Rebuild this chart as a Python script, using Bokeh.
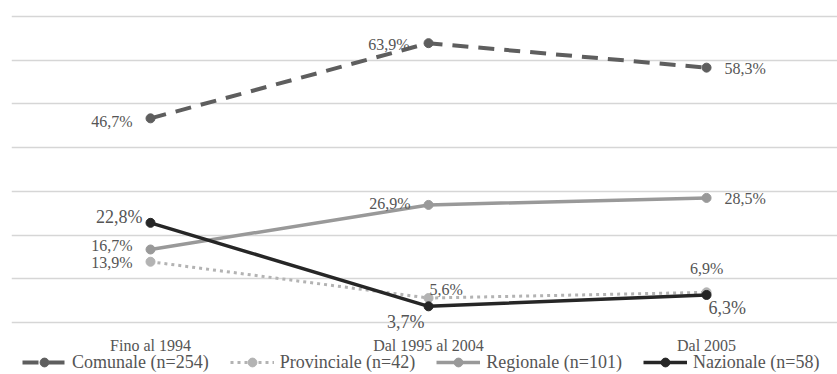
from bokeh.plotting import figure
from bokeh.models import (ColumnDataSource, Range1d, FixedTicker, Legend,
                          LegendItem, CustomJSTickFormatter)
from bokeh.embed import file_html
from bokeh.resources import INLINE
from bokeh.core.properties import value

# Periods on the x axis
periods = ["Fino al 1994", "Dal 1995 al 2004", "Dal 2005"]

# Share of each administrative level per period (%)
comunale = [46.7, 63.9, 58.3]
provinciale = [13.9, 5.6, 6.9]
regionale = [16.7, 26.9, 28.5]
nazionale = [22.8, 3.7, 6.3]

series_names = ["Comunale (n=254)", "Provinciale (n=42)",
                "Regionale (n=101)", "Nazionale (n=58)"]

grid_ticks = [0, 10, 20, 30, 40, 50, 60, 70]

FONT = "Liberation Serif"
TEXT_COLOR = "#555555"

styles = [
    dict(color="#5e5e5e", width=4, dash="16 10", msize=9),
    dict(color="#b3b3b3", width=3, dash="3 4", msize=9),
    dict(color="#999999", width=3.5, dash="solid", msize=9),
    dict(color="#262626", width=3.5, dash="solid", msize=9),
]

# Label placement per point: (dx px, dy px, align, font size)
label_layout = [
    [(-18, 3, "right", 16), (-19, 1, "right", 16), (18, 1, "left", 16)],
    [(-18, 1, "right", 16), (1, -9, "left", 16), (0, -24, "center", 16)],
    [(-18, -4, "right", 16), (-18, -1, "right", 16), (18, 1, "left", 16)],
    [(-8, -6, "right", 18), (-4, 16, "right", 18), (2, 13, "left", 18)],
]

# The frame fills the canvas height; the y range reaches below 0 so the
# period labels and the legend fit under the baseline.
H, TOP_PX, BASE_PX = 374, 16, 322
unit = (BASE_PX - TOP_PX) / 70.0
y_lo = -(H - BASE_PX) / unit
y_hi = 70 + TOP_PX / unit

p = figure(width=837, height=H, output_backend="svg", toolbar_location=None,
           x_range=Range1d(-0.5, 2.471), y_range=Range1d(y_lo, y_hi),
           min_border_left=11, min_border_right=0, min_border_top=0,
           min_border_bottom=0, outline_line_color=None,
           background_fill_color="white", border_fill_color="white")

p.xgrid.visible = False
p.ygrid.grid_line_color = "#d6d6d6"
p.ygrid.grid_line_width = 1.3
p.ygrid.ticker = FixedTicker(ticks=grid_ticks)
p.yaxis.visible = False

xs = list(range(len(periods)))
p.xaxis.fixed_location = 0
p.xaxis.ticker = FixedTicker(ticks=xs)
p.xaxis.formatter = CustomJSTickFormatter(
    args=dict(labels=periods), code="return labels[tick];")
p.xaxis.axis_line_color = None
p.xaxis.major_tick_line_color = None
p.xaxis.minor_tick_line_color = None
p.xaxis.major_tick_out = 0
p.xaxis.major_tick_in = 0
p.xaxis.minor_tick_out = 0
p.xaxis.major_label_standoff = 14
p.xaxis.major_label_text_font = FONT
p.xaxis.major_label_text_font_size = "16px"
p.xaxis.major_label_text_color = TEXT_COLOR

items = []
for vals, name, st, layout in zip([comunale, provinciale, regionale, nazionale],
                                  series_names, styles, label_layout):
    src = ColumnDataSource(dict(x=xs, y=vals))
    ln = p.line("x", "y", source=src, line_color=st["color"],
                line_width=st["width"], line_dash=st["dash"])
    mk = p.scatter("x", "y", source=src, size=st["msize"], marker="circle",
                   fill_color=st["color"], line_color=st["color"])
    items.append(LegendItem(label=name, renderers=[ln, mk]))

    for xi, v, (dx, dy, align, fs) in zip(xs, vals, layout):
        p.text(x=[xi], y=[v], text=[f"{v:.1f}%".replace(".", ",")],
               x_offset=dx, y_offset=dy, text_align=align,
               text_baseline="middle", text_font=value(FONT),
               text_font_size=f"{fs}px", text_color=TEXT_COLOR)

# Legend along the bottom, under the period labels
legend = Legend(items=items, orientation="horizontal", location=(11, 1),
                glyph_width=44, glyph_height=22, label_standoff=6, spacing=21,
                padding=0, margin=0, border_line_color=None,
                background_fill_alpha=0,
                label_text_font=FONT, label_text_font_size="18px",
                label_text_color=TEXT_COLOR)
p.add_layout(legend, "center")

open("out.html", "w").write(file_html(p, INLINE))
